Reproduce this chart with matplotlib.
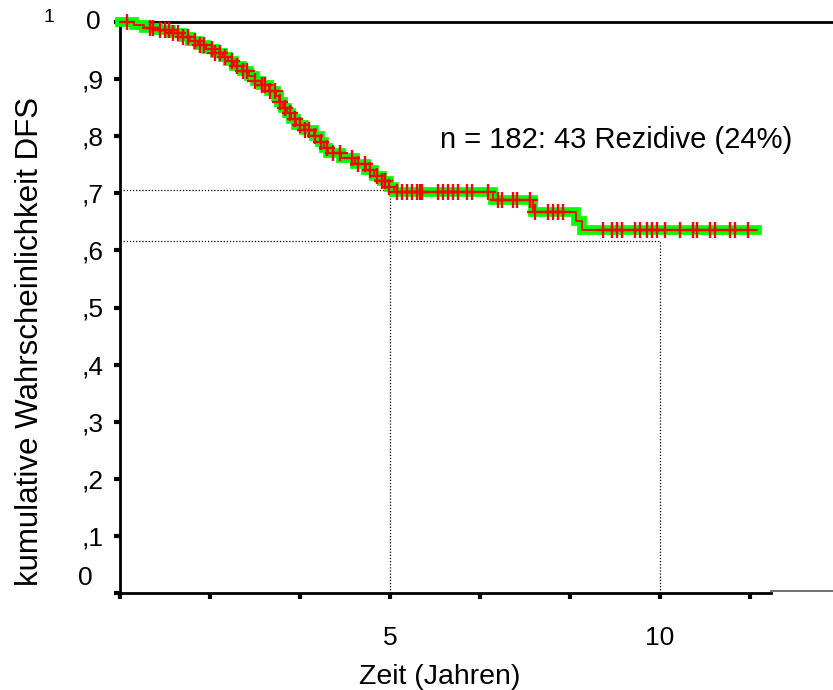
import numpy as np
import matplotlib.pyplot as plt

plt.rcParams['font.family'] = ['Liberation Sans', 'DejaVu Sans']

# Kaplan-Meier steps (event times in years, survival after each event)
event_t = [0.25, 0.45, 0.7, 0.95, 1.15, 1.3, 1.45, 1.6, 1.75, 1.9, 2.0, 2.12,
           2.25, 2.38, 2.5, 2.62, 2.75, 2.88, 2.95, 3.02, 3.1, 3.17, 3.25, 3.4,
           3.6, 3.7, 3.78, 3.85, 4.1, 4.35, 4.55, 4.7, 4.85, 4.98, 5.07, 6.9,
           7.65, 8.45, 8.55]
event_s = [0.995, 0.990, 0.986, 0.980, 0.974, 0.967, 0.960, 0.953, 0.946, 0.939,
           0.932, 0.923, 0.914, 0.906, 0.897, 0.889, 0.880, 0.870, 0.860, 0.850,
           0.840, 0.830, 0.820, 0.810, 0.800, 0.790, 0.780, 0.771, 0.762, 0.751,
           0.741, 0.731, 0.721, 0.711, 0.702, 0.688, 0.667, 0.652, 0.636]
t_end = 11.8

# censored observations (years)
censor_t = [0.13, 0.56, 0.62, 0.74, 0.83, 0.9, 0.98, 1.07, 1.17, 1.26, 1.39, 1.48,
            1.55, 1.70, 1.76, 1.85, 1.95, 2.07, 2.17, 2.28, 2.35, 2.5, 2.63, 2.68,
            2.78, 2.87, 2.96, 3.06, 3.15, 3.24, 3.33, 3.42, 3.5, 3.61, 3.72, 3.83,
            3.94, 4.07, 4.3, 4.41, 4.54, 4.63, 4.76, 4.85, 4.91, 4.98,
            5.13, 5.22, 5.31, 5.41, 5.50, 5.56, 5.59, 5.89, 5.98, 6.07, 6.17, 6.26,
            6.43, 6.52, 6.81, 7.0, 7.07, 7.28, 7.35, 7.59, 7.69, 7.93, 8.02, 8.11,
            8.20, 8.94, 9.11, 9.20, 9.30, 9.54, 9.63, 9.76, 9.85, 9.94, 10.09, 10.37,
            10.61, 10.69, 10.93, 11.02, 11.30, 11.39, 11.63]

# reference lines: (time, survival)
ref_5y = (5, 0.705)
ref_10y = (10, 0.617)

ytick_vals = [0.1, 0.2, 0.3, 0.4, 0.5, 0.6, 0.7, 0.8, 0.9]
ytick_labels = [',1', ',2', ',3', ',4', ',5', ',6', ',7', ',8', ',9']
xtick_vals = [0, 5 / 3, 10 / 3, 5, 20 / 3, 25 / 3, 10, 35 / 3]

x_max = 713 / 54

fig = plt.figure(figsize=(8.33, 6.9), dpi=100)
ax = fig.add_axes([120 / 833, 1 - 593 / 690, 1 - 120 / 833, (593 - 22) / 690])

step_x = np.r_[0, event_t, t_end]
step_y = np.r_[1.0, event_s, event_s[-1]]

ax.step(step_x, step_y, where='post', color='#00ff00', lw=7, solid_joinstyle='miter', zorder=3, clip_on=False)
ax.step(step_x, step_y, where='post', color='#ff0000', lw=1.3, zorder=4, clip_on=False)

idx = np.searchsorted(step_x, censor_t, side='right') - 1
ax.plot(censor_t, step_y[idx], ls='none', marker='+', ms=12, mew=1.7, color='#ff0000', zorder=5, clip_on=False)

for t, s in (ref_5y, ref_10y):
    ax.plot([0, t], [s, s], color='black', lw=0.9, ls=(0, (1, 1.5)), zorder=2)
    ax.plot([t, t], [0, s], color='black', lw=0.9, ls=(0, (1, 1.5)), zorder=2)

ax.set_xlim(0, x_max)
ax.set_ylim(0, 1)

ax.spines['right'].set_visible(False)
for sp in ('left', 'bottom', 'top'):
    ax.spines[sp].set_linewidth(2)
ax.spines['bottom'].set_bounds(0, 12.05)
ax.plot([12.05, x_max], [0.004, 0.004], color='#555555', lw=1.2, clip_on=False)

ax.set_xticks(xtick_vals)
ax.set_xticklabels(['', '', '', '5', '', '', '10', ''])
ax.set_yticks([0] + ytick_vals + [1])
ax.set_yticklabels([''] + ytick_labels + [''])
ax.tick_params(axis='both', direction='out', length=4, width=3, labelsize=19)
ax.tick_params(axis='x', pad=20)
ax.tick_params(axis='y', pad=8)

ax.text(-27 / 54, 0.026, '0', fontsize=19, ha='right', va='center')
ax.text(-19 / 54, 1.0, '0', fontsize=19, ha='right', va='center')
ax.text(-66 / 54, 1.008, '1', fontsize=14, ha='right', va='center')

ax.text(5.93, 0.793, 'n = 182: 43 Rezidive (24%)', fontsize=21, va='center')

fig.text(30 / 833, 1 - 342 / 690, 'kumulative Wahrscheinlichkeit DFS', rotation=90,
         fontsize=22.5, ha='center', va='center')
fig.text(440 / 833, 1 - 677 / 690, 'Zeit (Jahren)', fontsize=20.5, ha='center', va='center')

fig.savefig('out.png', dpi=100)
